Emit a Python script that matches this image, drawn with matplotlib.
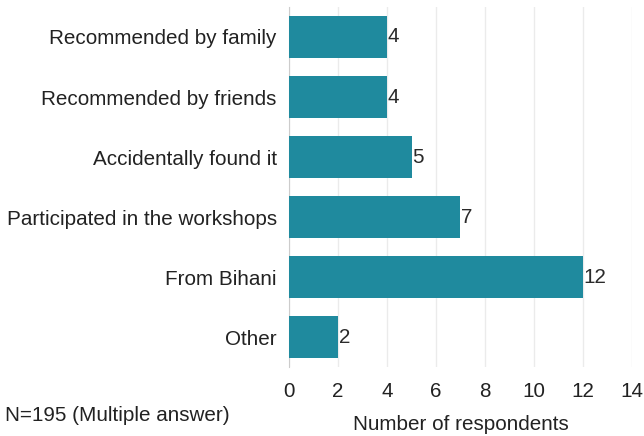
import matplotlib
matplotlib.use("Agg")
import matplotlib.pyplot as plt

categories = ["Recommended by family", "Recommended by friends", "Accidentally found it",
              "Participated in the workshops", "From Bihani", "Other"]
values = [4, 4, 5, 7, 12, 2]
x_ticks = [0, 2, 4, 6, 8, 10, 12, 14]

plt.rcParams['font.family'] = ['Liberation Sans', 'DejaVu Sans']
fs = 14.9

fig = plt.figure(figsize=(6.44, 4.36), dpi=100)
ax = fig.add_axes([0.449, 0.158, 0.532, 0.826])

y = list(range(len(categories)))
ax.barh(y, values, height=0.7, color="#1f8a9e", zorder=3)
for yi, v in zip(y, values):
    ax.text(v + 0.02, yi, str(v), va="center", ha="left", fontsize=fs, color="#2a2a2a")

ax.set_ylim(len(categories) - 0.5, -0.5)
ax.set_xlim(0, 14)
ax.set_xticks(x_ticks)
ax.set_yticks(y)
ax.set_yticklabels(categories, fontsize=fs, color="#222222")
ax.tick_params(axis="x", labelsize=fs, colors="#222222", length=0, pad=11)
ax.tick_params(axis="y", length=0, pad=9)
ax.grid(axis="x", color="#ebebeb", linewidth=1, zorder=0)
for s in ["top", "right", "bottom"]:
    ax.spines[s].set_visible(False)
ax.spines["left"].set_color("#cccccc")
ax.set_xlabel("Number of respondents", fontsize=fs, color="#222222", labelpad=10)

fig.text(0.008, 0.048, "N=195 (Multiple answer)", fontsize=fs, color="#222222", va="center")

fig.savefig("out.png", dpi=100)
